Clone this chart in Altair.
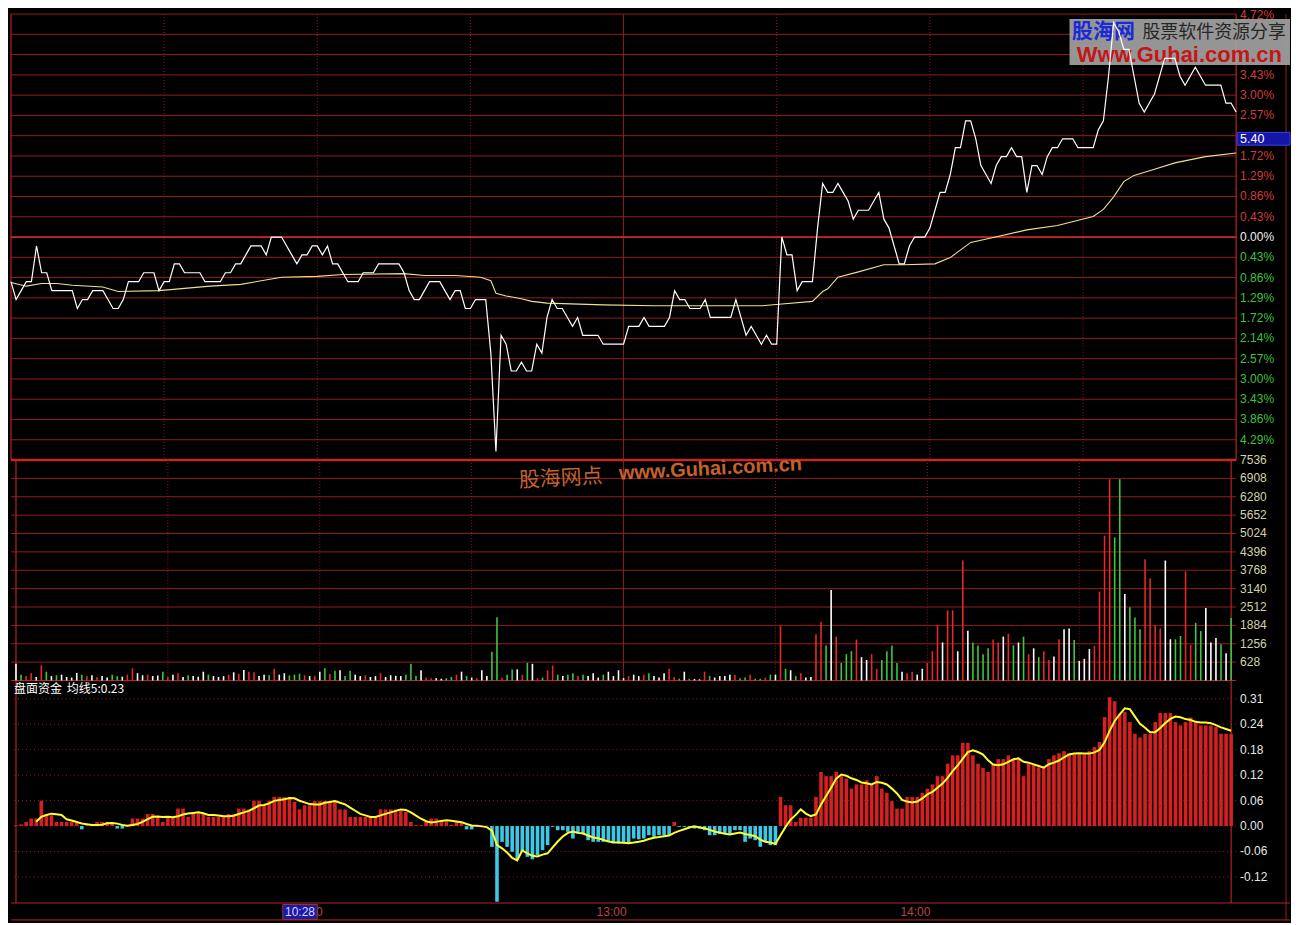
import altair as alt
import pandas as pd

# ---------------- data ----------------
PREV_CLOSE = 5.29

price = [
    5.24, 5.22, 5.23, 5.24, 5.24, 5.28, 5.25, 5.25, 5.23, 5.23,
    5.23, 5.23, 5.23, 5.21, 5.22, 5.22, 5.23, 5.23, 5.23, 5.22,
    5.21, 5.21, 5.22, 5.24, 5.24, 5.24, 5.25, 5.25, 5.25, 5.23,
    5.24, 5.24, 5.26, 5.26, 5.25, 5.25, 5.25, 5.25, 5.24, 5.24,
    5.24, 5.24, 5.25, 5.25, 5.26, 5.26, 5.27, 5.28, 5.28, 5.28,
    5.27, 5.29, 5.29, 5.29, 5.28, 5.27, 5.26, 5.27, 5.27, 5.28,
    5.28, 5.27, 5.28, 5.26, 5.26, 5.25, 5.24, 5.24, 5.24, 5.25,
    5.25, 5.25, 5.26, 5.26, 5.26, 5.26, 5.26, 5.25, 5.23, 5.22,
    5.22, 5.23, 5.24, 5.24, 5.24, 5.23, 5.22, 5.23, 5.23, 5.21,
    5.21, 5.22, 5.22, 5.22, 5.16, 5.05, 5.18, 5.17, 5.14, 5.14,
    5.15, 5.14, 5.14, 5.17, 5.16, 5.20, 5.22, 5.21, 5.21, 5.20,
    5.19, 5.20, 5.18, 5.18, 5.18, 5.18, 5.17, 5.17, 5.17, 5.17,
    5.17, 5.19, 5.19, 5.19, 5.20, 5.19, 5.19, 5.19, 5.19, 5.20,
    5.23, 5.22, 5.22, 5.21, 5.21, 5.21, 5.22, 5.20, 5.20, 5.20,
    5.20, 5.20, 5.22, 5.20, 5.18, 5.19, 5.18, 5.17, 5.18, 5.17,
    5.17, 5.29, 5.27, 5.27, 5.23, 5.24, 5.24, 5.24, 5.30, 5.35,
    5.34, 5.34, 5.35, 5.34, 5.33, 5.31, 5.32, 5.32, 5.32, 5.33,
    5.34, 5.31, 5.30, 5.28, 5.26, 5.26, 5.28, 5.29, 5.29, 5.29,
    5.30, 5.32, 5.34, 5.34, 5.36, 5.39, 5.39, 5.42, 5.42, 5.40,
    5.37, 5.36, 5.35, 5.37, 5.38, 5.38, 5.39, 5.38, 5.38, 5.34,
    5.37, 5.37, 5.36, 5.38, 5.39, 5.39, 5.40, 5.40, 5.40, 5.39,
    5.39, 5.39, 5.39, 5.41, 5.42, 5.47, 5.53, 5.52, 5.50, 5.50,
    5.47, 5.44, 5.43, 5.44, 5.45, 5.47, 5.49, 5.49, 5.49, 5.47,
    5.46, 5.47, 5.48, 5.47, 5.46, 5.46, 5.46, 5.46, 5.44, 5.44, 5.43,
]

avg_idx = [0, 3, 6, 9, 12, 18, 21, 29, 39, 45, 53, 60, 65, 77, 81, 87, 92, 94,
           95, 97, 100, 102, 105, 116, 126, 147, 151, 157, 159, 160, 162, 166,
           171, 175, 181, 184, 188, 192, 199, 205, 212, 214, 216, 218, 220, 224,
           228, 234, 240]
avg_price = [5.239, 5.235, 5.238, 5.238, 5.236, 5.234, 5.229, 5.230, 5.235, 5.237,
             5.245, 5.246, 5.248, 5.249, 5.247, 5.247, 5.245, 5.241, 5.227, 5.224,
             5.221, 5.218, 5.216, 5.214, 5.213, 5.213, 5.215, 5.218, 5.229, 5.232,
             5.245, 5.251, 5.259, 5.259, 5.260, 5.267, 5.284, 5.289, 5.298, 5.303,
             5.313, 5.321, 5.335, 5.352, 5.359, 5.366, 5.373, 5.380, 5.384]

volume = [
    570, 200, 150, 250, 120, 520, 300, 150, 180, 200,
    120, 100, 260, 200, 150, 180, 120, 150, 100, 200,
    150, 130, 200, 420, 250, 180, 200, 150, 170, 300,
    130, 200, 250, 120, 180, 150, 130, 300, 200, 150,
    120, 150, 200, 280, 230, 360, 300, 280, 150, 200,
    180, 400, 200, 250, 170, 200, 230, 180, 150, 160,
    300, 420, 220, 330, 350, 150, 330, 200, 150, 180,
    120, 150, 250, 120, 180, 160, 150, 200, 570, 150,
    350, 100, 80, 80, 60, 80, 120, 200, 300, 150,
    100, 80, 350, 150, 980, 2160, 100, 200, 380, 380,
    200, 600, 570, 80, 100, 350, 510, 200, 150, 200,
    250, 150, 200, 150, 250, 100, 200, 300, 150, 350,
    80, 150, 200, 150, 200, 250, 150, 100, 250, 400,
    120, 60, 300, 60, 50, 40, 300, 150, 100, 150,
    150, 200, 200, 80, 100, 200, 60, 60, 100, 200,
    200, 1860, 400, 350, 150, 250, 100, 120, 1580, 2000,
    1200, 3090, 1500, 600, 900, 1000, 1400, 800, 700, 900,
    400, 700, 1000, 1200, 600, 300, 250, 300, 200, 400,
    600, 1000, 1900, 1300, 2400, 2400, 1000, 4100, 1700, 1300,
    1200, 900, 1100, 1400, 1300, 1500, 1600, 1200, 1300, 1500,
    900, 1100, 800, 1000, 700, 820, 1410, 1750, 1780, 1380,
    670, 740, 1080, 1180, 3040, 4950, 6880, 4890, 6880, 2960,
    2500, 2150, 1750, 4140, 3490, 1890, 1780, 4100, 1410, 1410,
    1520, 3730, 1220, 1970, 1690, 2480, 1300, 1450, 1240, 930, 2140,
]

flow = [
    0.002, 0.004, 0.010, 0.018, 0.018, 0.061, 0.026, 0.026, 0.010, 0.010,
    0.010, 0.010, 0.008, -0.008, 0.002, 0.002, 0.010, 0.010, 0.010, 0.005,
    -0.006, -0.006, 0.001, 0.018, 0.018, 0.018, 0.029, 0.029, 0.022, 0.010,
    0.022, 0.022, 0.042, 0.042, 0.022, 0.030, 0.030, 0.030, 0.022, 0.022,
    0.022, 0.022, 0.029, 0.029, 0.042, 0.042, 0.040, 0.061, 0.061, 0.050,
    0.061, 0.070, 0.070, 0.070, 0.066, 0.058, 0.040, 0.050, 0.050, 0.060,
    0.060, 0.060, 0.060, 0.060, 0.040, 0.040, 0.022, 0.022, 0.022, 0.022,
    0.022, 0.022, 0.040, 0.040, 0.040, 0.040, 0.040, 0.034, 0.010, 0.002,
    0.002, 0.010, 0.018, 0.018, 0.014, 0.010, 0.003, 0.010, 0.010, -0.008,
    -0.008, 0.001, 0.001, 0.001, -0.050, -0.182, -0.038, -0.050, -0.062, -0.080,
    -0.062, -0.074, -0.080, -0.070, -0.058, -0.046, -0.002, -0.010, -0.010, -0.014,
    -0.030, -0.018, -0.018, -0.034, -0.038, -0.038, -0.038, -0.038, -0.042, -0.042,
    -0.042, -0.042, -0.030, -0.032, -0.030, -0.022, -0.026, -0.022, -0.022, -0.022,
    0.010, -0.002, -0.002, -0.002, -0.006, -0.006, -0.010, -0.022, -0.022, -0.019,
    -0.019, -0.019, -0.010, -0.010, -0.038, -0.030, -0.034, -0.050, -0.038, -0.046,
    -0.046, 0.070, 0.050, 0.050, 0.010, 0.020, 0.020, 0.020, 0.070, 0.130,
    0.120, 0.120, 0.130, 0.120, 0.114, 0.090, 0.100, 0.100, 0.110, 0.100,
    0.120, 0.090, 0.080, 0.060, 0.042, 0.042, 0.070, 0.070, 0.070, 0.080,
    0.090, 0.100, 0.120, 0.120, 0.150, 0.170, 0.170, 0.200, 0.200, 0.170,
    0.150, 0.140, 0.130, 0.150, 0.161, 0.161, 0.170, 0.161, 0.161, 0.120,
    0.150, 0.150, 0.141, 0.141, 0.161, 0.170, 0.175, 0.180, 0.175, 0.172,
    0.172, 0.172, 0.180, 0.190, 0.202, 0.262, 0.310, 0.300, 0.270, 0.274,
    0.250, 0.222, 0.213, 0.222, 0.222, 0.250, 0.272, 0.272, 0.272, 0.250,
    0.242, 0.250, 0.261, 0.250, 0.242, 0.242, 0.242, 0.238, 0.222, 0.222, 0.222,
]

pct_tick_vals = [4.719, 4.29, 3.861, 3.432, 3.003, 2.574, 2.145, 1.716, 1.287, 0.858, 0.429,
                 0.0, -0.429, -0.858, -1.287, -1.716, -2.145, -2.574, -3.003, -3.432, -3.861, -4.29]
pct_tick_text = ["4.72%", "4.29%", "3.86%", "3.43%", "3.00%", "2.57%", "2.14%", "1.72%", "1.29%",
                 "0.86%", "0.43%", "0.00%", "0.43%", "0.86%", "1.29%", "1.72%", "2.14%", "2.57%",
                 "3.00%", "3.43%", "3.86%", "4.29%"]
# labels that the reference hides behind the watermark box / price cursor box
pct_tick_hidden = [4.29, 3.861, 2.145]
vol_tick_vals = [628, 1256, 1884, 2512, 3140, 3768, 4396, 5024, 5652, 6280, 6908, 7536]
vol_tick_text = ["628", "1256", "1884", "2512", "3140", "3768", "4396", "5024", "5652", "6280", "6908", "7536"]
flow_tick_vals = [0.306, 0.2448, 0.1836, 0.1224, 0.0612, 0.0, -0.0612, -0.1224]
flow_tick_text = ["0.31", "0.24", "0.18", "0.12", "0.06", "0.00", "-0.06", "-0.12"]

half_hour_idx = [30, 60, 90, 150, 180, 210]
break_idx = [120]
time_idx = [60, 120, 180]
time_text = ["10:30", "13:00", "14:00"]
cursor_idx = [58]
cursor_text = ["10:28"]
cursor_price = [5.40]
cursor_price_text = ["5.40"]
indicator_name = ["盘面资金"]
indicator_ma_text = ["均线5:0.23"]
wm_top = ["股海网", "股票软件资源分享", "Www.Guhai.com.cn"]
wm_mid = ["股海网点", "www.Guhai.com.cn"]

# ---------------- derived table ----------------
dirs = ["flat"] + [
    "up" if price[i] > price[i - 1] else ("down" if price[i] < price[i - 1] else "flat")
    for i in range(1, len(price))
]
minutes = pd.DataFrame({"j": list(range(len(price))), "price": price, "vol": volume,
                        "flow": flow, "dir": dirs})
avg_df = pd.DataFrame({"j": avg_idx, "avg": avg_price})

# ---------------- layout / style ----------------
W, H1, H2, H3 = 1228, 447, 221, 223
GRID = "#951c1c"
BORDER = "#b82222"
FONT = "Liberation Sans"
CJK = "Noto Sans CJK SC"
LBL = 12

xs = alt.Scale(domain=[0, 240], nice=False, zero=False)


def X(field="j"):
    return alt.X(f"{field}:Q", scale=xs, axis=None)


one = pd.DataFrame({"k": [0]})


def vgrid(h):
    dotted = alt.Chart(pd.DataFrame({"j": half_hour_idx})).mark_rule(
        color=GRID, strokeDash=[1, 2], strokeWidth=1).encode(x=X())
    solid = alt.Chart(pd.DataFrame({"j": break_idx})).mark_rule(
        color=GRID, strokeWidth=1).encode(x=X())
    edges = alt.Chart(pd.DataFrame({"j": [0, 240]})).mark_rule(
        color=BORDER, strokeWidth=1.2).encode(x=X())
    side = alt.Chart(one).mark_rule(color=GRID, strokeWidth=1).encode(
        x=alt.value(W + 50), y=alt.value(0), y2=alt.value(h))
    return [dotted, solid, edges, side]


# ---------------- price panel ----------------
yP = alt.Scale(domain=[-4.719, 4.719], nice=False, zero=False)
ptick = pd.DataFrame({"v": pct_tick_vals, "t": pct_tick_text})
ptick["hidden"] = ptick["v"].isin(pct_tick_hidden)
col_expr = "datum.v > 0.001 ? '#d23c3c' : (datum.v < -0.001 ? '#3cc23c' : '#f0f0f0')"

p_grid = alt.Chart(ptick).mark_rule(color=GRID, strokeWidth=1).encode(
    y=alt.Y("v:Q", scale=yP, axis=None))
p_zero = alt.Chart(ptick).transform_filter("datum.v == 0").mark_rule(
    color="#c42626", strokeWidth=1.8).encode(y=alt.Y("v:Q", scale=yP, axis=None))
p_bottom = alt.Chart(pd.DataFrame({"v": [-4.719]})).mark_rule(
    color="#c82626", strokeWidth=2.5).encode(y=alt.Y("v:Q", scale=yP, axis=None))
p_labels = alt.Chart(ptick).transform_filter(
    "datum.v < 4.7 && !datum.hidden").transform_calculate(
    col=col_expr).mark_text(align="left", baseline="middle", font=FONT, fontSize=LBL).encode(
    x=alt.value(W + 4), y=alt.Y("v:Q", scale=yP, axis=None), text="t:N",
    color=alt.Color("col:N", scale=None))
p_label_top = alt.Chart(ptick).transform_filter("datum.v >= 4.7").mark_text(
    align="left", baseline="top", font=FONT, fontSize=LBL, color="#d23c3c", dy=-4).encode(
    x=alt.value(W + 4), y=alt.Y("v:Q", scale=yP, axis=None), text="t:N")

wm_box = alt.Chart(one).mark_rect(color="#a2a2a2", opacity=0.92).encode(
    x=alt.value(W - 167), x2=alt.value(W + 54), y=alt.value(5), y2=alt.value(51))
wm_t1 = alt.Chart(pd.DataFrame({"t": [wm_top[0]]})).mark_text(
    font=CJK, fontSize=21, fontWeight="bold", color="#1a2ad6", align="center",
    baseline="middle").encode(x=alt.value(W - 133), y=alt.value(18), text="t:N")
wm_t2 = alt.Chart(pd.DataFrame({"t": [wm_top[1]]})).mark_text(
    font=CJK, fontSize=18, color="#262626", align="center",
    baseline="middle").encode(x=alt.value(W - 22), y=alt.value(19), text="t:N")
wm_t3 = alt.Chart(pd.DataFrame({"t": [wm_top[2]]})).mark_text(
    font=FONT, fontSize=22, fontWeight="bold", color="#c41616", align="center",
    baseline="middle").encode(x=alt.value(W - 57), y=alt.value(41), text="t:N")

cur_df = pd.DataFrame({"p": cursor_price, "t": cursor_price_text})
cur_box = alt.Chart(cur_df).transform_calculate(
    pct=f"(datum.p/{PREV_CLOSE}-1)*100").transform_calculate(
    lo="datum.pct-0.135", hi="datum.pct+0.135").mark_rect(
    color="#1616a4", stroke="#3c3cff", strokeWidth=1).encode(
    x=alt.value(W + 1), x2=alt.value(W + 54),
    y=alt.Y("lo:Q", scale=yP, axis=None), y2="hi:Q")
cur_txt = alt.Chart(cur_df).transform_calculate(
    pct=f"(datum.p/{PREV_CLOSE}-1)*100").mark_text(
    align="left", baseline="middle", font=FONT, fontSize=12.5, color="#ffffff").encode(
    x=alt.value(W + 4), y=alt.Y("pct:Q", scale=yP, axis=None), text="t:N")

avg_line = alt.Chart(avg_df).transform_calculate(
    pct=f"(datum.avg/{PREV_CLOSE}-1)*100").mark_line(
    color="#efe08c", strokeWidth=1.1).encode(x=X(), y=alt.Y("pct:Q", scale=yP, axis=None))
price_line = alt.Chart(minutes).transform_calculate(
    pct=f"(datum.price/{PREV_CLOSE}-1)*100").mark_line(
    color="#ffffff", strokeWidth=1.2).encode(x=X(), y=alt.Y("pct:Q", scale=yP, axis=None))

price_panel = alt.layer(
    p_grid, *vgrid(H1), p_zero, p_bottom, p_labels, p_label_top,
    wm_box, wm_t1, wm_t2, wm_t3, cur_box, cur_txt, avg_line, price_line
).properties(width=W, height=H1)

# ---------------- volume panel ----------------
yV = alt.Scale(domain=[0, 7536], nice=False)
vtick = pd.DataFrame({"v": vol_tick_vals, "t": vol_tick_text})
v_grid = alt.Chart(vtick).transform_filter("datum.v < 7536").mark_rule(
    color=GRID, strokeWidth=1).encode(y=alt.Y("v:Q", scale=yV, axis=None))
v_bottom = alt.Chart(pd.DataFrame({"v": [0]})).mark_rule(
    color=BORDER, strokeWidth=1.2).encode(y=alt.Y("v:Q", scale=yV, axis=None))
v_labels = alt.Chart(vtick).mark_text(
    align="left", baseline="middle", font=FONT, fontSize=LBL, color="#d2d2aa").encode(
    x=alt.value(W + 4), y=alt.Y("v:Q", scale=yV, axis=None), text="t:N")
v_bars = alt.Chart(minutes).mark_bar(size=1.6).encode(
    x=X(), y=alt.Y("vol:Q", scale=yV, axis=None), y2=alt.datum(0),
    color=alt.Color("dir:N", scale=alt.Scale(domain=["up", "down", "flat"],
                                             range=["#e62828", "#3cc83c", "#ffffff"]),
                    legend=None))
wm_m1 = alt.Chart(pd.DataFrame({"t": [wm_mid[0]]})).mark_text(
    font=CJK, fontSize=21, color="#c4622c", angle=357, align="center",
    baseline="middle").encode(x=alt.value(551), y=alt.value(19), text="t:N")
wm_m2 = alt.Chart(pd.DataFrame({"t": [wm_mid[1]]})).mark_text(
    font=FONT, fontSize=20, fontWeight="bold", color="#c4622c", angle=357, align="center",
    baseline="middle").encode(x=alt.value(701), y=alt.value(9), text="t:N")

volume_panel = alt.layer(
    v_grid, *vgrid(H2), v_bottom, v_bars, v_labels, wm_m1, wm_m2
).properties(width=W, height=H2)

# ---------------- indicator panel ----------------
yF = alt.Scale(domain=[-0.185, 0.35], nice=False, zero=False)
ftick = pd.DataFrame({"v": flow_tick_vals, "t": flow_tick_text})
f_grid = alt.Chart(ftick).mark_rule(color=GRID, strokeDash=[1, 3], strokeWidth=1).encode(
    y=alt.Y("v:Q", scale=yF, axis=None))
f_edges = alt.Chart(pd.DataFrame({"j": [0, 240]})).mark_rule(
    color=BORDER, strokeWidth=1.2).encode(x=X())
f_bottom = alt.Chart(one).mark_rule(color=BORDER, strokeWidth=1.2).encode(
    x=alt.value(0), x2=alt.value(W + 54), y=alt.value(H3), y2=alt.value(H3))
f_side = alt.Chart(one).mark_rule(color=GRID, strokeWidth=1).encode(
    x=alt.value(W + 50), y=alt.value(0), y2=alt.value(H3 + 18))
f_labels = alt.Chart(ftick).mark_text(
    align="left", baseline="middle", font=FONT, fontSize=LBL, color="#e6e6e6").encode(
    x=alt.value(W + 4), y=alt.Y("v:Q", scale=yF, axis=None), text="t:N")
f_bars = alt.Chart(minutes).mark_bar(size=3.6).encode(
    x=X(), y=alt.Y("flow:Q", scale=yF, axis=None), y2=alt.datum(0),
    color=alt.condition("datum.flow >= 0", alt.value("#d42020"), alt.value("#3cc8e6")))
f_ma = alt.Chart(minutes).transform_window(
    ma="mean(flow)", frame=[-4, 0], sort=[alt.SortField("j")]
).transform_filter("datum.j >= 4").mark_line(color="#ffff30", strokeWidth=2).encode(
    x=X(), y=alt.Y("ma:Q", scale=yF, axis=None))
f_name = alt.Chart(pd.DataFrame({"t": indicator_name})).mark_text(
    font=CJK, fontSize=12, color="#ffffff", align="left", baseline="middle").encode(
    x=alt.value(3), y=alt.value(9), text="t:N")
f_ma_name = alt.Chart(pd.DataFrame({"t": indicator_ma_text})).mark_text(
    font=CJK, fontSize=12, color="#ffffff", align="left", baseline="middle").encode(
    x=alt.value(56), y=alt.value(9), text="t:N")

t_labels = alt.Chart(pd.DataFrame({"j": time_idx, "t": time_text})).mark_text(
    font=FONT, fontSize=12, color="#bc4444", align="right", baseline="middle", dx=3).encode(
    x=X(), y=alt.value(H3 + 9), text="t:N")
cur_t = pd.DataFrame({"j": cursor_idx, "t": cursor_text})
t_box = alt.Chart(cur_t).transform_calculate(
    jl="datum.j - 5.3", jr="datum.j + 1.5").mark_rect(
    color="#1a1aa8", stroke="#a43030", strokeWidth=1).encode(
    x=X("jl"), x2="jr:Q", y=alt.value(H3 + 1.5), y2=alt.value(H3 + 16.5))
t_text = alt.Chart(cur_t).transform_calculate(jm="datum.j - 1.9").mark_text(
    font=FONT, fontSize=12, color="#d4d4ff", align="center", baseline="middle").encode(
    x=X("jm"), y=alt.value(H3 + 9), text="t:N")
t_line = alt.Chart(one).mark_rule(color=BORDER, strokeWidth=1).encode(
    x=alt.value(0), x2=alt.value(W + 54), y=alt.value(H3 + 17), y2=alt.value(H3 + 17))

indicator_panel = alt.layer(
    f_grid, f_edges, f_side, f_bars, f_ma, f_labels, f_name, f_ma_name,
    f_bottom, t_labels, t_box, t_text, t_line
).properties(width=W, height=H3)

chart = alt.vconcat(
    price_panel, volume_panel, indicator_panel, spacing=0, bounds="flush"
).properties(background="#000000", padding=0).configure_view(strokeWidth=0)

chart.save("out.html", embed_options={"renderer": "svg", "actions": False})
